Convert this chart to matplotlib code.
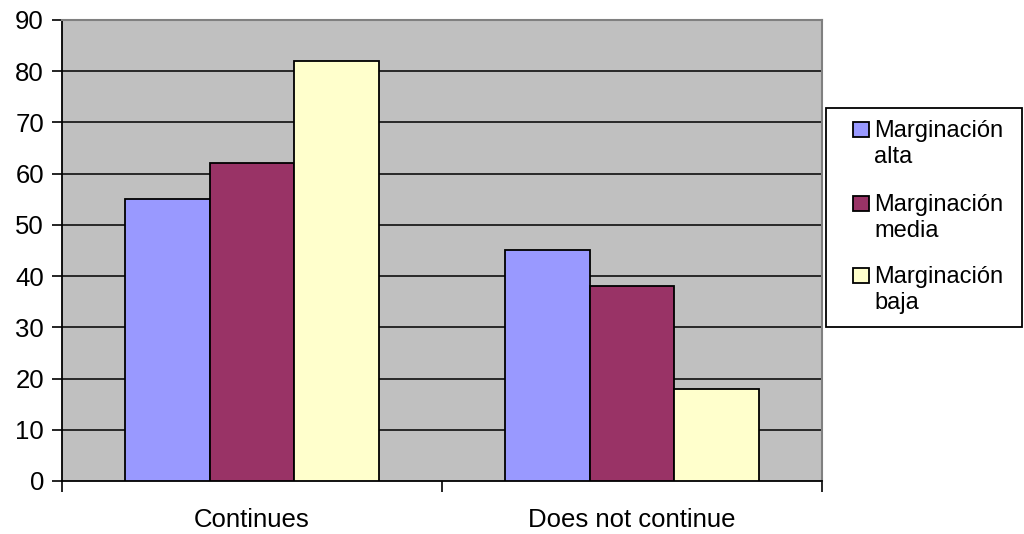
import matplotlib
matplotlib.use("Agg")
import matplotlib.pyplot as plt
from matplotlib.patches import Rectangle
import numpy as np

plt.rcParams['font.family'] = ['Liberation Sans', 'DejaVu Sans']

categories = ["Continues", "Does not continue"]
series_names = ["Marginación\nalta", "Marginación\nmedia", "Marginación\nbaja"]
alta = [55, 45]
media = [62, 38]
baja = [82, 18]
yticks = [0, 10, 20, 30, 40, 50, 60, 70, 80, 90]

colors = ["#9999FF", "#993366", "#FFFFCC"]
values = [alta, media, baja]

fig = plt.figure(figsize=(10.24, 5.34), dpi=100)
ax = fig.add_axes([62/1024, 1-481/534, (822-62)/1024, (481-20)/534])
ax.set_facecolor("#C0C0C0")

x = np.arange(len(categories))
w = 0.222
for i, (vals, c) in enumerate(zip(values, colors)):
    ax.bar(x + (i-1)*w, vals, width=w, color=c, edgecolor="black", linewidth=1.3, zorder=3)

ax.set_xlim(-0.5, 1.5)
ax.set_ylim(0, 90)
ax.set_yticks(yticks)
ax.set_yticklabels([str(t) for t in yticks], fontsize=18.5)
for t in yticks[1:-1]:
    ax.axhline(t, color="black", linewidth=1.1, zorder=1)

ax.set_xticks(x)
ax.set_xticklabels(categories, fontsize=18.5)
ax.set_xticks([-0.5, 0.5, 1.5], minor=True)
ax.tick_params(axis='x', which='major', length=0, pad=19.5)
ax.tick_params(axis='x', which='minor', length=8, width=1.2, direction='out')
ax.tick_params(axis='y', length=7, width=1.2, direction='out', pad=6)

for s in ["left", "bottom"]:
    ax.spines[s].set_color("black")
    ax.spines[s].set_linewidth(1.3)
for s in ["top", "right"]:
    ax.spines[s].set_color("#808080")
    ax.spines[s].set_linewidth(1.5)

# legend box
W, H = 1024, 534
fig.patches.append(Rectangle((826/W, 1-327/H), (1022-826)/W, (327-108)/H,
                             transform=fig.transFigure, facecolor="white",
                             edgecolor="black", linewidth=1.3, zorder=5))
tops = [122, 196, 268]
for name, c, t in zip(series_names, colors, tops):
    fig.patches.append(Rectangle((853/W, 1-(t+15)/H), 16/W, 15/H,
                                 transform=fig.transFigure, facecolor=c,
                                 edgecolor="black", linewidth=1.3, zorder=6))
    fig.text(874/W, 1-(t-2)/H, name, fontsize=17, va="top", ha="left",
             linespacing=1.25, zorder=7)

fig.savefig("out.png", dpi=100)
